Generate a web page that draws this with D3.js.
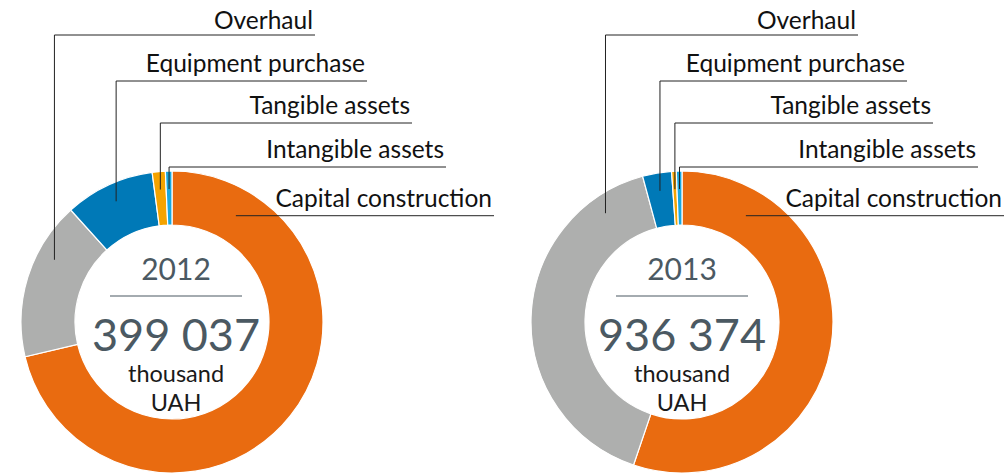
<!DOCTYPE html>
<html>
<head>
<meta charset="utf-8">
<script src="https://cdn.jsdelivr.net/npm/d3@7"></script>
<style>
  body { margin: 0; background: #fff; }
  svg { display: block; font-family: Lato, "Open Sans", sans-serif; }
</style>
</head>
<body>
<div id="chart"></div>
<script>
// data (shares of total, %)
const categories = ["Capital construction", "Overhaul", "Equipment purchase", "Tangible assets", "Intangible assets"];
const years = ["2012", "2013"];
const totals = [399037, 936374];
const shares2012 = [71.3, 17.0, 9.6, 1.4, 0.7];
const shares2013 = [55.2, 40.6, 3.1, 0.5, 0.6];
const unitLabel = ["thousand", "UAH"];

const colors = ["#E96B10", "#AEAFAE", "#0079B7", "#F4A300", "#19A8DE"];

// layout
const width = 1006, height = 475;
const cy = 322, rOuter = 151, rInner = 97;
const charts = [
  { cx: 172, textDx: 4, shares: shares2012, lineRight: [494, 315, 367, 412, 446] },
  { cx: 682, textDx: 0, shares: shares2013, lineRight: [1004, 858, 907, 933, 978] }
];
const labelRowY = [null, 35, 81, 123, 167]; // label underline rows (capital one is computed)

const svg = d3.select("#chart").append("svg")
  .attr("width", width)
  .attr("height", height);

const pie = d3.pie().sort(null).value(d => d);
const arc = d3.arc().innerRadius(rInner).outerRadius(rOuter);
const fmt = v => d3.format(",")(v).replace(/,/g, " ");

charts.forEach((c, ci) => {
  const g = svg.append("g").attr("transform", "translate(" + c.cx + "," + cy + ")");
  const arcs = pie(c.shares);

  g.selectAll("path.slice")
    .data(arcs)
    .join("path")
    .attr("class", "slice")
    .attr("d", arc)
    .attr("fill", (d, i) => colors[i])
    .attr("stroke", "#fff")
    .attr("stroke-width", 1.2);

  // leader lines + labels
  const rLead = 133;
  arcs.forEach((d, i) => {
    let a, px, py, lineY, leftX;
    if (i === 0) {
      a = d.startAngle + 31 * Math.PI / 180;
      px = 124 * Math.sin(a);
      py = -124 * Math.cos(a);
      lineY = py;
      leftX = px;
    } else {
      const mid = (d.startAngle + d.endAngle) / 2;
      a = Math.max(mid, d.endAngle - 20 * Math.PI / 180);
      px = rLead * Math.sin(a);
      py = -rLead * Math.cos(a);
      lineY = labelRowY[i] - cy;
      leftX = px;
      g.append("line")
        .attr("x1", px).attr("y1", py)
        .attr("x2", px).attr("y2", lineY)
        .attr("stroke", "#222").attr("stroke-width", 1);
    }
    const rightX = c.lineRight[i] - c.cx;
    g.append("line")
      .attr("x1", leftX).attr("y1", lineY)
      .attr("x2", rightX).attr("y2", lineY)
      .attr("stroke", "#222").attr("stroke-width", 1);
    g.append("text")
      .attr("x", rightX - 2)
      .attr("y", lineY - (i === 1 ? 6 : 9))
      .attr("text-anchor", "end")
      .attr("font-size", 24.5)
      .attr("fill", "#111")
      .text(categories[i]);
  });

  // centre texts
  const t = g.append("g").attr("transform", "translate(" + c.textDx + ",0)");
  t.append("text")
    .attr("y", -42)
    .attr("text-anchor", "middle")
    .attr("font-size", 30)
    .attr("fill", "#4B5962")
    .text(years[ci]);
  t.append("line")
    .attr("x1", -66).attr("x2", 66)
    .attr("y1", -26).attr("y2", -26)
    .attr("stroke", "#4B5962").attr("stroke-width", 1.2);
  t.append("text")
    .attr("y", 29)
    .attr("text-anchor", "middle")
    .attr("font-size", 45)
    .attr("fill", "#4B5962")
    .text(fmt(totals[ci]));
  t.selectAll("text.unit")
    .data(unitLabel)
    .join("text")
    .attr("class", "unit")
    .attr("y", (d, i) => 60 + i * 28.5)
    .attr("text-anchor", "middle")
    .attr("font-size", 23.5)
    .attr("fill", "#1a1a1a")
    .text(d => d);
});
</script>
</body>
</html>
